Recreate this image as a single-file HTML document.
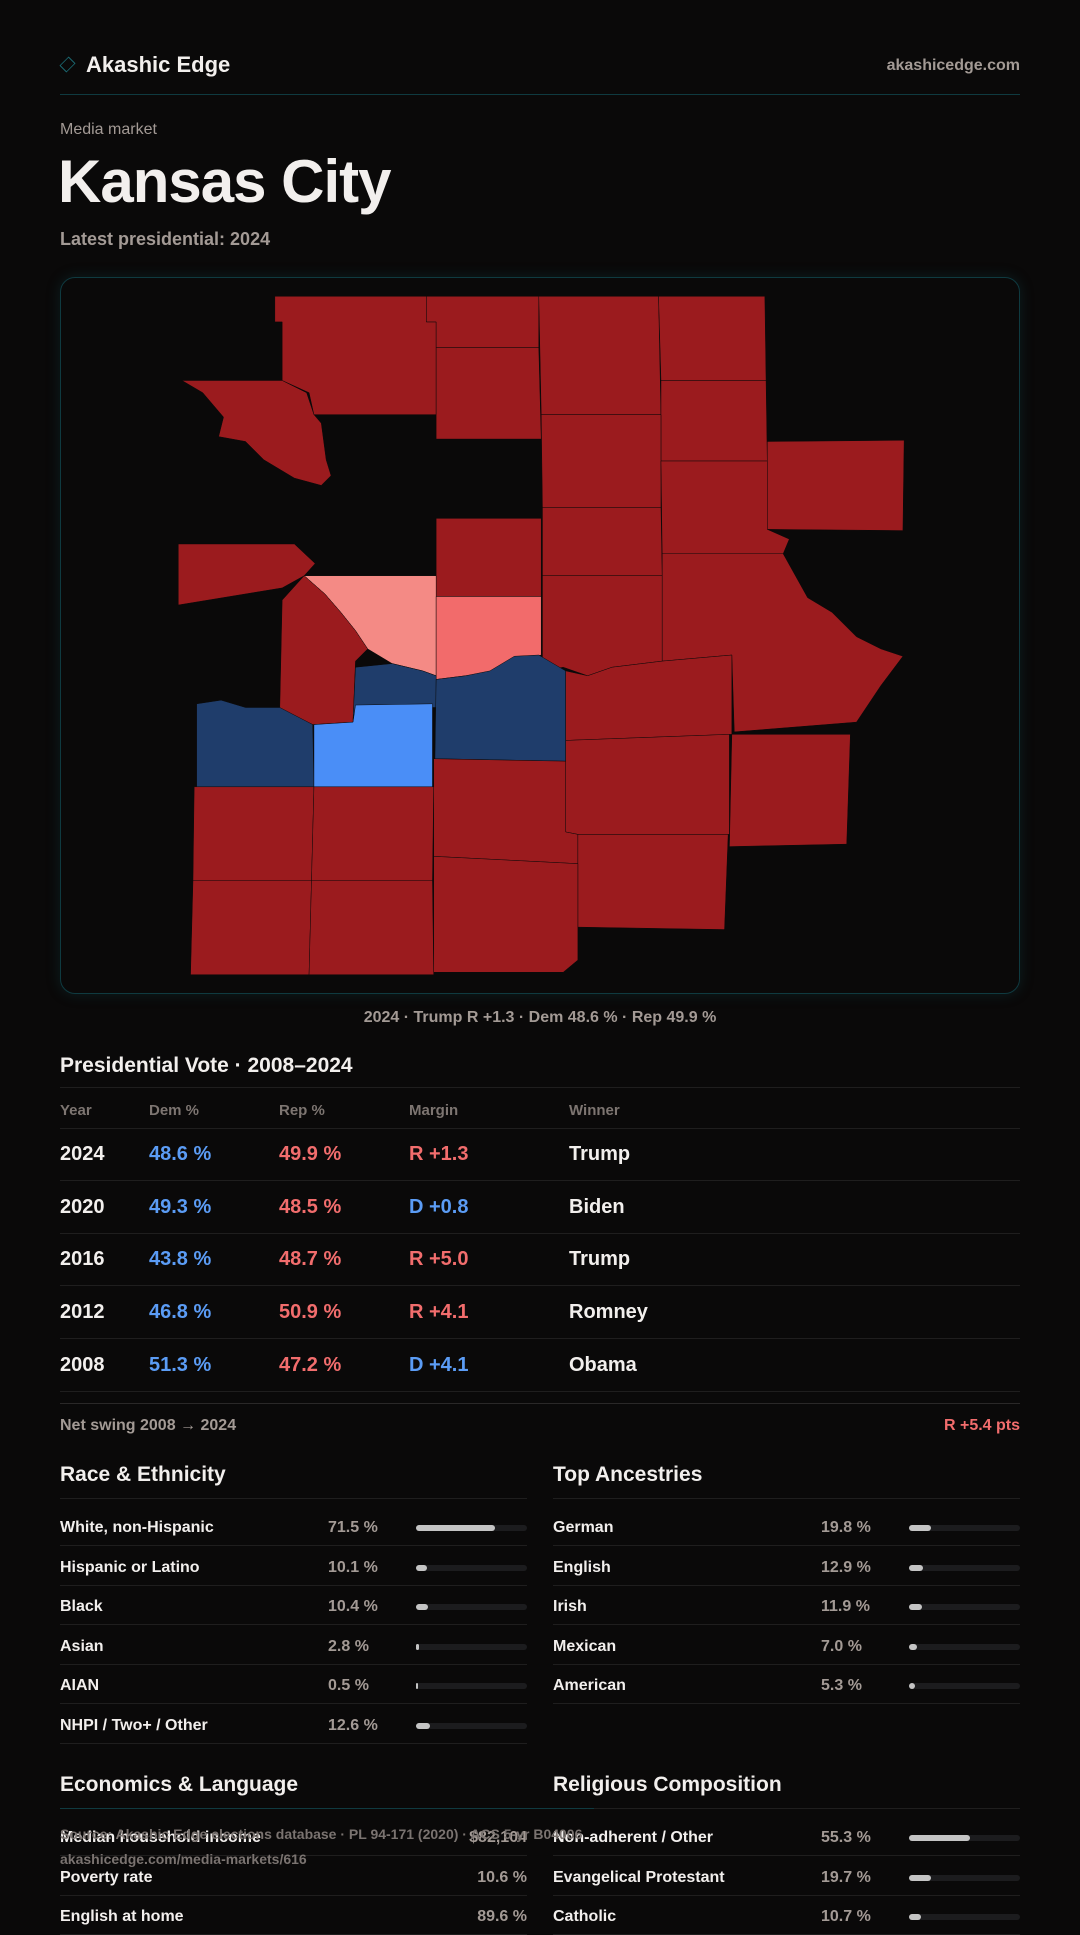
<!DOCTYPE html>
<html><head><meta charset="utf-8"><style>
*{margin:0;padding:0;box-sizing:border-box}
body{width:1080px;height:1920px;background:#0a0909;color:#f2efed;font-family:"Liberation Sans",sans-serif;position:relative;overflow:hidden}
.a{position:absolute;white-space:nowrap}
.g{color:#a39a95}
.hl{position:absolute;left:60px;width:960px;height:1px;background:#1f1e1e}
.b{font-weight:bold}
.blue{color:#5b9cf5}.red{color:#f26d6d}
.track{position:absolute;height:6px;border-radius:3px;background:#1c1c1e}
.fill{position:absolute;left:0;top:0;height:6px;border-radius:3px;background:#c4c4c4}
</style></head><body>
<div class="a" style="left:61px;top:58px;width:13px;height:13px;border:1.5px solid #1b6b74;transform:rotate(45deg) scaleX(.75)"></div>
<div class="a b" style="left:86px;top:52px;font-size:22px">Akashic Edge</div>
<div class="a b g" style="right:60px;top:57px;font-size:16px">akashicedge.com</div>
<div class="hl" style="top:94px;background:#0f3a40"></div>
<div class="a g" style="left:60px;top:121px;font-size:16px">Media market</div>
<div class="a b" style="left:58px;top:147px;font-size:60px;letter-spacing:-1px">Kansas City</div>
<div class="a b g" style="left:60px;top:229px;font-size:18px">Latest presidential: 2024</div>

<div class="a" style="left:60px;top:277px;width:960px;height:717px;border:1px solid #0f3a40;border-radius:15px;box-shadow:0 0 14px rgba(20,90,100,.25)">
<svg width="958" height="715" viewBox="49 226 784 586" preserveAspectRatio="none">
<g id="counties" stroke="#0a0909" stroke-width="0.4"></g>
</svg></div>
<div class="a b g" style="left:0;width:1080px;text-align:center;top:1009px;font-size:16px">2024 · Trump R +1.3 · Dem 48.6 % · Rep 49.9 %</div>

<div class="a b" style="left:60px;top:1054px;font-size:21px">Presidential Vote · 2008–2024</div>
<div class="hl" style="top:1087px"></div>
<div id="vt"></div>
<div class="hl" style="top:1403px;background:#2a2828"></div>
<div class="a b g" style="left:60px;top:1417px;font-size:16px">Net swing 2008 → 2024</div>
<div class="a b red" style="right:60px;top:1417px;font-size:16px">R +5.4 pts</div>
<div id="stats"></div>

<div class="a" style="left:60px;top:1808px;width:534px;height:1px;background:#0f3a40"></div>
<div class="a b" style="left:60px;top:1826px;font-size:14px;color:#7a7370">Source: Akashic Edge elections database · PL 94-171 (2020) · ACS 5-yr B04006</div>
<div class="a b" style="left:60px;top:1851px;font-size:14px;color:#7a7370">akashicedge.com/media-markets/616</div>

<script>
const years=["2024","2020","2016","2012","2008"];
const demPct=[48.6,49.3,43.8,46.8,51.3];
const repPct=[49.9,48.5,48.7,50.9,47.2];
const margins=["R +1.3","D +0.8","R +5.0","R +4.1","D +4.1"];
const winners=["Trump","Biden","Trump","Romney","Obama"];
const raceLabels=["White, non-Hispanic","Hispanic or Latino","Black","Asian","AIAN","NHPI / Two+ / Other"];
const raceValues=[71.5,10.1,10.4,2.8,0.5,12.6];
const ancLabels=["German","English","Irish","Mexican","American"];
const ancValues=[19.8,12.9,11.9,7.0,5.3];
const econLabels=["Median household income","Poverty rate","English at home"];
const econValues=["$82,104","10.6 %","89.6 %"];
const relLabels=["Non-adherent / Other","Evangelical Protestant","Catholic"];
const relValues=[55.3,19.7,10.7];
const countyColors={R:"#9b1b1e",r:"#f48a85",c:"#f26b6b",N:"#1f3d6b",B:"#4a8ef7"};
const counties=[
["R","224,241 348,241 348,262 356,262 356,338 256,338 252,320 230,310 230,262 224,262"],
["R","348,241 440,241 440,283 356,283 356,262 348,262"],
["R","440,241 538,241 540,338 442,338"],
["R","538,241 625,241 626,310 540,310"],
["R","356,283 440,283 442,358 356,358"],
["R","540,310 626,310 627,376 540,376"],
["R","442,338 540,338 540,414 443,414"],
["R","148,310 230,310 250,320 256,338 262,345 266,375 270,388 262,396 240,390 215,375 200,360 178,356 182,340 165,320"],
["R","627,360 739,359 738,433 627,432"],
["R","540,376 627,376 627,432 645,440 640,452 541,452"],
["R","443,414 540,414 541,470 443,470"],
["R","356,423 442,423 442,487 356,487"],
["R","145,444 240,444 257,460 248,470 230,480 145,494"],
["r","248,470 356,470 356,552 345,548 320,542 300,530 290,515 278,500 265,485"],
["c","356,487 442,487 442,535 420,540 400,550 380,552 356,555"],
["R","248,470 265,485 278,500 290,515 300,530 290,540 288,590 255,592 228,580 230,490"],
["R","443,470 541,470 541,540 500,545 480,552 460,545 443,548"],
["R","541,452 640,452 660,488 680,500 700,520 720,530 738,536 720,560 700,590 600,598 598,535 541,540"],
["N","160,575 180,572 200,578 228,578 255,592 256,643 160,643"],
["N","290,545 320,542 345,548 356,552 356,578 290,578 288,588"],
["B","256,592 288,590 290,576 353,575 353,643 256,643"],
["N","356,555 380,552 400,548 420,536 440,535 462,548 462,622 355,620"],
["R","462,548 480,552 500,545 541,540 598,535 598,600 462,605"],
["R","598,600 695,600 692,690 596,692"],
["R","462,605 596,600 596,682 472,682 462,680"],
["R","354,620 462,622 462,680 472,682 472,706 354,700"],
["R","472,682 595,682 592,760 472,758"],
["R","158,643 256,643 254,720 157,720"],
["R","256,643 354,643 353,720 254,720"],
["R","354,700 472,706 472,785 460,795 354,795"],
["R","157,720 254,720 252,797 155,797"],
["R","254,720 353,720 354,797 252,797"]];
const NS="http://www.w3.org/2000/svg";
const cg=document.getElementById("counties");
counties.forEach((c,i)=>{const p=document.createElementNS(NS,"polygon");p.setAttribute("points",c[1]);p.setAttribute("fill",countyColors[c[0]]);


cg.appendChild(p);});

function el(parent,cls,style,text){const d=document.createElement("div");d.className=cls;d.style.cssText=style;if(text!=null)d.textContent=text;parent.appendChild(d);return d;}
const vt=document.getElementById("vt");
const cols=[60,149,279,409,569];
["Year","Dem %","Rep %","Margin","Winner"].forEach((h,i)=>{const d=el(vt,"a b g","left:"+cols[i]+"px;top:1102px;font-size:15px;color:#7d7571",h);

});
el(vt,"hl","top:1128px");
years.forEach((y,i)=>{const top=1143+i*52.7;
const mt=margins[i];
const vals=[[y,""],[demPct[i].toFixed(1)+" %","blue"],[repPct[i].toFixed(1)+" %","red"],[mt,mt[0]==="R"?"red":"blue"],[winners[i],""]];
vals.forEach((v,j)=>{const d=el(vt,"a b "+v[1],"left:"+cols[j]+"px;top:"+top+"px;font-size:20px",v[0]);

});
const l=el(vt,"hl","top:"+(1180+i*52.7)+"px");

});

const st=document.getElementById("stats");
function section(title,x,top,labels,values,isBar){
const h=el(st,"a b","left:"+x+"px;top:"+(top+2)+"px;font-size:21px",title);


const r=el(st,"a","left:"+x+"px;top:"+(top+37)+"px;width:467px;height:1px;background:#1f1e1e");


labels.forEach((lab,i)=>{const y=top+44+i*39.6;
const L=el(st,"a b","left:"+x+"px;top:"+(y+14)+"px;font-size:16px",lab);


if(isBar){const V=el(st,"a g b","left:"+(x+268)+"px;top:"+(y+14)+"px;font-size:16px",values[i].toFixed(1)+" %");


const t=el(st,"track","left:"+(x+356)+"px;top:"+(y+20)+"px;width:111px");


const f=el(t,"fill","width:"+Math.max(2,111*values[i]/100)+"px");

}
else{const V=el(st,"a g b","left:"+x+"px;width:467px;text-align:right;top:"+(y+14)+"px;font-size:16px",values[i]);

}
const rl=el(st,"a","left:"+x+"px;top:"+(y+40)+"px;width:467px;height:1px;background:#1f1e1e");

});}
section("Race & Ethnicity",60,1461,raceLabels,raceValues,true);
section("Top Ancestries",553,1461,ancLabels,ancValues,true);
section("Economics & Language",60,1771,econLabels,econValues,false);
section("Religious Composition",553,1771,relLabels,relValues,true);
</script>
</body></html>
